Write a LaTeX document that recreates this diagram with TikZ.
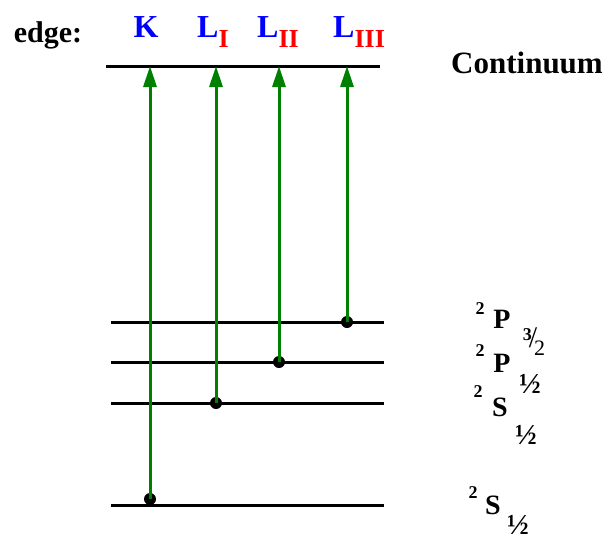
\documentclass[tikz,border=0pt]{standalone}
\usepackage{fontspec}
\setmainfont{Liberation Serif}
\usetikzlibrary{arrows.meta}
\definecolor{edgeblue}{RGB}{0,0,255}
\definecolor{edgered}{RGB}{255,0,0}
\definecolor{trgreen}{RGB}{0,128,0}
\newcommand{\fs}[1]{\fontsize{#1}{#1}\selectfont}
\begin{document}
\begin{tikzpicture}[x=1pt,y=-1pt,
  level/.style={line width=3pt},
  trans/.style={trgreen, line width=3pt, -{Triangle[length=21pt,width=13pt]}},
  dotnode/.style={circle, fill=black, inner sep=0pt, minimum size=12pt},
  lbl/.style={font=\bfseries\fs{32}, inner sep=0pt, text=edgeblue},
  plain/.style={font=\bfseries\fs{28}, inner sep=0pt},
  supr/.style={font=\bfseries\fs{18}, inner sep=0pt},
  frac/.style={font=\bfseries\fs{29}, inner sep=0pt}]
\useasboundingbox (0,0) rectangle (609,538);
% levels
\coordinate (c1) at (106,66);  \coordinate (c2) at (380,66);
\coordinate (a1) at (111,322); \coordinate (a2) at (384,322);
\coordinate (b1) at (111,362); \coordinate (b2) at (384,362);
\coordinate (d1) at (111,403); \coordinate (d2) at (384,403);
\coordinate (e1) at (111,505); \coordinate (e2) at (384,505);
\draw[level] (c1) -- (c2);
\draw[level] (a1) -- (a2);
\draw[level] (b1) -- (b2);
\draw[level] (d1) -- (d2);
\draw[level] (e1) -- (e2);
% dots
\node[dotnode] (dK) at (150,499) {};
\node[dotnode] (dL1) at (216,403) {};
\node[dotnode] (dL2) at (279,362) {};
\node[dotnode] (dL3) at (347,322) {};
% tips
\coordinate (tK) at (150,66);
\coordinate (tL1) at (216,66);
\coordinate (tL2) at (279,66);
\coordinate (tL3) at (347,66);
\draw[trans] (dK.center) -- (tK);
\draw[trans] (dL1.center) -- (tL1);
\draw[trans] (dL2.center) -- (tL2);
\draw[trans] (dL3.center) -- (tL3);
% edge labels
\node[font=\bfseries\fs{30}, inner sep=0pt, anchor=base] (edge) at (48,42) {edge:};
\node[lbl, anchor=base] (K) at (146,37) {K};
\node[lbl, anchor=base west] (L1) at (197,37) {L\raisebox{-10pt}{\textcolor{edgered}{\fs{26}I}}};
\node[lbl, anchor=base west] (L2) at (257,37) {L\raisebox{-10pt}{\textcolor{edgered}{\fs{26}II}}};
\node[lbl, anchor=base west] (L3) at (333,37) {L\raisebox{-10pt}{\textcolor{edgered}{\fs{26}III}}};
\node[font=\bfseries\fs{31}, inner sep=0pt, anchor=base] (cont) at (527,73) {Continuum};
% term symbols
\node[supr] (s1) at (480,309) {2};
\node[plain] (p1) at (502,319) {P};
\node[inner sep=0pt] (f1) at (534,342) {\raisebox{7pt}{\bfseries\fs{18}3}\kern-3pt{\fs{30}/}\kern-3pt\raisebox{-8pt}{\fs{22}2}};
\node[supr] (s2) at (480,351) {2};
\node[plain] (p2) at (502,363) {P};
\node[frac] (f2) at (530,384) {½};
\node[supr] (s3) at (478,392) {2};
\node[plain] (p3) at (500,407) {S};
\node[frac] (f3) at (526,435) {½};
\node[supr] (s4) at (473,493) {2};
\node[plain] (p4) at (493,505) {S};
\node[frac] (f4) at (518,525) {½};
\end{tikzpicture}
\end{document}
